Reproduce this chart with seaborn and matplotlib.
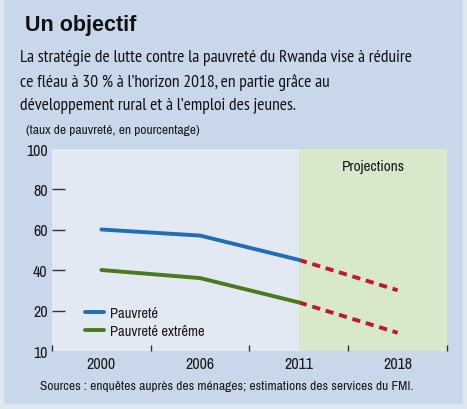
import matplotlib
matplotlib.use("Agg")
import matplotlib.pyplot as plt
from matplotlib import font_manager
from matplotlib.patches import Rectangle
import pandas as pd
import seaborn as sns

years = ["2000", "2006", "2011", "2018"]
pauvrete = [60, 57, 45, 30]
extreme = [40, 36, 24, 9]
n_hist = 3  # 2000-2011 observed, 2011-2018 projected
ytick_vals = [0, 20, 40, 60, 80, 100]
ytick_labels = ["10", "20", "40", "60", "80", "100"]

BG = "#c8d7ea"
PLOT_BG = "#e3e9f2"
PROJ_BG = "#d7e8cb"
BLUE = "#1f6fb8"
GREEN = "#4a7a1c"
RED = "#c1172f"
NARROW = ["Archivo Narrow", "DejaVu Sans"]

# the intro text is set in an Arial Narrow-like face; take the first one installed
installed = {f.name for f in font_manager.fontManager.ttflist}
intro_font, intro_size = "Liberation Sans", 10.6
for fam, size in [("PT Sans Narrow", 12.6), ("Roboto Condensed", 11.6),
                  ("Open Sans Condensed", 11.6)]:
    if fam in installed:
        intro_font, intro_size = fam, size
        break

sns.set_style("white")
plt.rcParams["font.family"] = ["Liberation Sans", "DejaVu Sans"]

pos = list(range(len(years)))
df = pd.DataFrame({"x": pos * 2,
                   "y": pauvrete + extreme,
                   "serie": ["Pauvreté"] * len(years) + ["Pauvreté extrême"] * len(years)})
hist = df[df["x"] < n_hist]
proj = df[df["x"] >= n_hist - 1]

fig = plt.figure(figsize=(4.67, 4.10), dpi=100, facecolor=BG)
ax = fig.add_axes([52 / 467, 1 - 352 / 410, 395 / 467, 202.5 / 410])
ax.set_facecolor(PLOT_BG)

ax.axvspan(n_hist - 1, len(years) - 0.5, color=PROJ_BG, lw=0, zorder=0)

sns.lineplot(data=hist, x="x", y="y", hue="serie", palette=[BLUE, GREEN],
             linewidth=2.8, ax=ax, zorder=3)
for name, g in proj.groupby("serie"):
    sns.lineplot(x=g["x"], y=g["y"], color=RED, linewidth=2.8,
                 ax=ax, zorder=2, legend=False)
for line in ax.lines[-2:]:
    line.set_dashes((2.1, 1.5))

ax.set_xlim(-0.5, len(years) - 0.5)
ax.set_ylim(0, 100)
for s in ax.spines.values():
    s.set_visible(False)

ax.set_xticks(pos)
ax.set_xticklabels(years, color="#1a1a1a", fontsize=11.5, family=NARROW)
ax.set_xticks([p - 0.5 for p in pos] + [len(years) - 0.5], minor=True)
ax.tick_params(axis="x", which="major", bottom=True, length=0, pad=3.5)
ax.tick_params(axis="x", which="minor", bottom=True, direction="in", length=4,
               width=1, color="#333333")

ax.set_yticks(ytick_vals)
ax.set_yticklabels(ytick_labels, color="#1a1a1a", fontsize=11.5, family=NARROW)
ax.tick_params(axis="y", left=True, direction="in", length=9, width=1,
               color="#333333", pad=3.2)
yt = ax.yaxis.get_major_ticks()
yt[0].tick1line.set_visible(False)
yt[-1].tick1line.set_visible(False)
ax.set_xlabel("")
ax.set_ylabel("")

ax.text((n_hist - 1 + len(years) - 0.5) / 2, 91.5, "Projections", ha="center",
        va="center", fontsize=11, family=NARROW, color="#1a1a1a")

leg = ax.legend(loc="lower left", bbox_to_anchor=(0.05, 0.0), frameon=False,
                handlelength=1.3, handletextpad=0.4, labelspacing=0.25,
                prop={"family": NARROW, "size": 10.5})
for t in leg.get_texts():
    t.set_color("#1a1a1a")

fig.text(25 / 467, 1 - 25 / 410, "Un objectif", fontsize=15.5, fontweight="bold",
         va="center", ha="left", color="#111111")
fig.text(20 / 467, 1 - 50 / 410,
         "La stratégie de lutte contre la pauvreté du Rwanda vise à réduire\n"
         "ce fléau à 30 % à l’horizon 2018, en partie grâce au\n"
         "développement rural et à l’emploi des jeunes.",
         fontsize=intro_size, family=[intro_font, "DejaVu Sans"], va="top", ha="left",
         linespacing=1.58, color="#111111")
fig.text(26 / 467, 1 - 130 / 410, "(taux de pauvreté, en pourcentage)",
         fontsize=9.7, family=NARROW, va="center", ha="left", color="#1a1a1a")
fig.text(40 / 467, 1 - 387 / 410,
         "Sources : enquêtes auprès des ménages; estimations des services du FMI.",
         fontsize=9.7, family=NARROW, va="center", ha="left", color="#1a1a1a")

light = "#dfe7f1"
fig.patches.append(Rectangle((0, 0), 3 / 467, 1, transform=fig.transFigure,
                             color=light, zorder=-1))
fig.patches.append(Rectangle((463 / 467, 0), 4 / 467, 1, transform=fig.transFigure,
                             color=light, zorder=-1))
fig.patches.append(Rectangle((0, 0), 1, 5 / 410, transform=fig.transFigure,
                             color=light, zorder=-1))

fig.savefig("out.png", dpi=100, facecolor=BG)
